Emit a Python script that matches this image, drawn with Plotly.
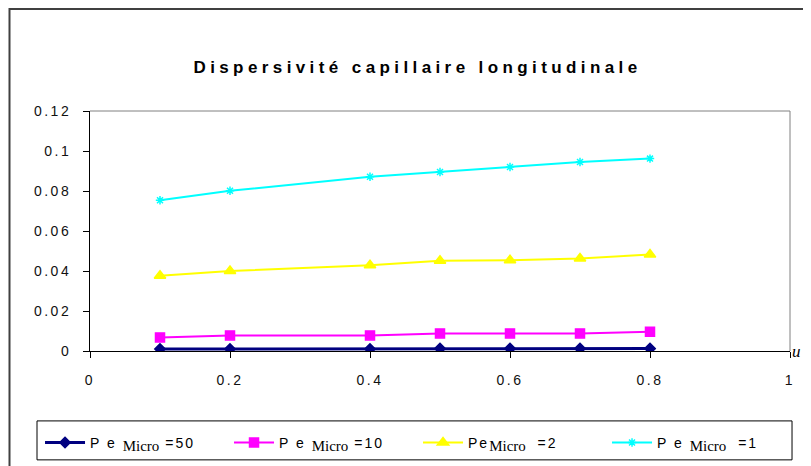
import plotly.graph_objects as go

x_vals = [0.1, 0.2, 0.4, 0.5, 0.6, 0.7, 0.8]
pe50 = [0.001, 0.001, 0.001, 0.0012, 0.0012, 0.0012, 0.0012]
pe10 = [0.0068, 0.0078, 0.0078, 0.0088, 0.0088, 0.0088, 0.0096]
pe2 = [0.0376, 0.0400, 0.0429, 0.0451, 0.0454, 0.0463, 0.0482]
pe1 = [0.0754, 0.0801, 0.0871, 0.0895, 0.0920, 0.0945, 0.0962]

x_ticks = [0, 0.2, 0.4, 0.6, 0.8, 1]
x_tick_labels = ["0", "0.2", "0.4", "0.6", "0.8", "1"]
y_ticks = [0, 0.02, 0.04, 0.06, 0.08, 0.1, 0.12]
y_tick_labels = ["0", "0.02", "0.04", "0.06", "0.08", "0.1", "0.12"]

SP = '<span style="letter-spacing:2px">{}</span>'
SUB = '<sub><span style="font-family:Liberation Serif, Times New Roman;font-size:15px">Micro</span></sub>'
names = [SP.format("P e ") + SUB + SP.format(" =50"), SP.format("P e ") + SUB + SP.format(" =10"),
         SP.format("Pe") + SUB + SP.format("  =2"), SP.format("P e ") + SUB + SP.format("  =1")]
colors = ["#000080", "#FF00FF", "#FFFF00", "#00FFFF"]
symbols = ["diamond", "square", "triangle-up", "asterisk-open"]
sizes = [8, 9, 10, 7]
series = [pe50, pe10, pe2, pe1]

fig = go.Figure()
for name, c, s, sz, y in zip(names, colors, symbols, sizes, series):
    fig.add_trace(go.Scatter(
        x=x_vals, y=y, name=name, mode="lines+markers",
        line=dict(color=c, width=2 if c != "#000080" else 3),
        marker=dict(symbol=s, size=sz, color=c, line=dict(color=c, width=1.5)),
    ))

LS = '<span style="letter-spacing:2.5px">{}</span>'

# page has an 8px body margin, so the figure is 8px smaller and shifted
fig.update_layout(
    width=803, height=458,
    margin=dict(l=82, r=21, t=103, b=115, autoexpand=False),
    paper_bgcolor="white", plot_bgcolor="white",
    font=dict(family="Arial, Liberation Sans", size=13, color="black"),
    title=dict(text='<b><span style="letter-spacing:4.4px">Dispersivité capillaire longitudinale</span></b>',
               x=0.51, xanchor="center", y=0.871, yanchor="middle",
               font=dict(size=17, color="black")),
    xaxis=dict(range=[0, 1], tickvals=x_ticks, ticktext=[LS.format(t) for t in x_tick_labels],
               showgrid=False, zeroline=False,
               showline=True, linecolor="black", linewidth=1, mirror=False,
               ticks="outside", ticklen=6, tickcolor="black",
               ticklabelstandoff=10, tickfont=dict(size=14, color="#111111")),
    yaxis=dict(range=[0, 0.12], tickvals=y_ticks, ticktext=[LS.format(t) for t in y_tick_labels],
               showgrid=False, zeroline=False,
               showline=True, linecolor="black", linewidth=1,
               ticks="outside", ticklen=6, tickcolor="black",
               ticklabelstandoff=9, tickfont=dict(size=14, color="#111111")),
    legend=dict(orientation="h", x=-0.0714, xanchor="left", y=-0.383, yanchor="middle",
                borderwidth=0, bgcolor="rgba(0,0,0,0)", font=dict(size=14),
                entrywidth=134, itemwidth=40),
    showlegend=True,
)

# plot area top/right border (gray)
fig.add_shape(type="line", xref="paper", yref="paper", x0=0, x1=1, y0=1, y1=1,
              line=dict(color="#808080", width=1))
fig.add_shape(type="line", xref="paper", yref="paper", x0=1, x1=1, y0=0, y1=1,
              line=dict(color="#808080", width=1))
# legend box
fig.add_shape(type="rect", xref="paper", yref="paper",
              x0=-0.0757, x1=1.0029, y0=-0.4536, y1=-0.2913,
              line=dict(color="black", width=1))
# outer chart frame
fig.add_shape(type="rect", xref="paper", yref="paper",
              x0=-0.115, x1=1.1, y0=-0.6, y1=1.425,
              line=dict(color="#404040", width=2))

fig.add_annotation(text="<i>u</i>", xref="paper", yref="paper", x=1.0, y=0.0,
                   xanchor="left", yanchor="middle", showarrow=False,
                   font=dict(size=17, family="Liberation Serif, Times New Roman"))

fig.write_html("out.html")
